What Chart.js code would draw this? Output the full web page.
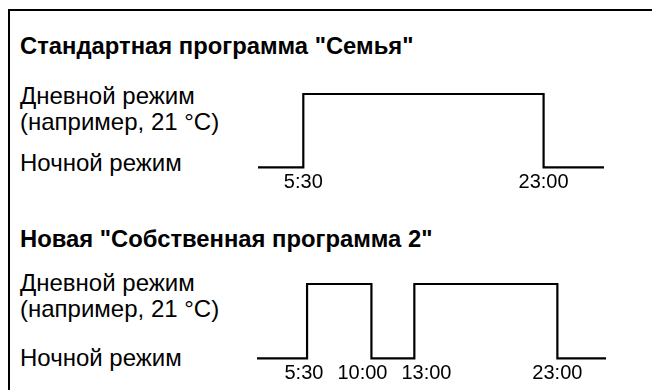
<!DOCTYPE html>
<html>
<head>
<meta charset="utf-8">
<script src="https://cdn.jsdelivr.net/npm/chart.js"></script>
<style>
  body { margin: 0; background: #fff; font-family: "Liberation Sans", Arial, sans-serif; color: #000; }
  #page { position: relative; width: 652px; height: 390px; overflow: hidden; }
  #frame { position: absolute; left: 8px; top: 9px; width: 660px; height: 400px;
           border-top: 2px solid #000; border-left: 2px solid #000; }
  .title { position: absolute; left: 20px; font-weight: bold; font-size: 23.8px; line-height: 27px; white-space: nowrap; }
  .lbl { position: absolute; left: 20px; font-size: 24px; line-height: 26px; white-space: nowrap; }
  canvas { position: absolute; left: 0; }
</style>
</head>
<body>
<div id="page">
  <div id="frame"></div>

  <div class="title" style="top:32px">Стандартная программа "Семья"</div>
  <div class="lbl" style="top:83px">Дневной режим<br>(например, 21 °C)</div>
  <div class="lbl" style="top:150px">Ночной режим</div>
  <canvas id="grafico_famiglia" width="652" height="140" style="top:60px"></canvas>

  <div class="title" style="top:225px">Новая "Собственная программа 2"</div>
  <div class="lbl" style="top:270px">Дневной режим<br>(например, 21 °C)</div>
  <div class="lbl" style="top:345px">Ночной режим</div>
  <canvas id="grafico_proprio" width="652" height="140" style="top:250px"></canvas>
</div>

<script>
// livelli: 0 = notte, 1 = giorno
// programma standard "Семья" (ore; lo schema non è in scala, la linea parte prima e finisce dopo)
var ore_famiglia = [2.2, 5.5, 23, 27.4];
var livello_famiglia = [0, 1, 0, 0];
var tick_famiglia = [5.5, 23];
var etichette_famiglia = ['5:30', '23:00'];

// nuovo programma proprio 2
var ore_proprio = [2.0, 5.5, 10, 13, 23, 26.4];
var livello_proprio = [0, 1, 0, 1, 0, 0];
var tick_proprio = [5.5, 10, 13, 23];
var etichette_proprio = ['5:30', '10:00', '13:00', '23:00'];

// se due etichette dell'asse x si sovrappongono le allargo un po'
var separa_etichette = {
  id: 'separa_etichette',
  beforeDraw: function (chart) {
    var scale = chart.scales.x;
    var items = scale.getLabelItems();
    var ctx = chart.ctx;
    var spazio = 14;
    var larghezze = items.map(function (it) {
      ctx.save();
      ctx.font = it.font.string;
      var w = ctx.measureText(it.label).width;
      ctx.restore();
      return w;
    });
    for (var giro = 0; giro < 6; giro++) {
      for (var i = 0; i < items.length - 1; i++) {
        var a = items[i].options.translation;
        var b = items[i + 1].options.translation;
        var sovrapp = (a[0] + larghezze[i] / 2 + spazio) - (b[0] - larghezze[i + 1] / 2);
        if (sovrapp > 0) {
          a[0] -= sovrapp / 2;
          b[0] += sovrapp / 2;
        }
      }
    }
  }
};

function disegna_programma(id, ore, livelli, tick, etichette, padding) {
  var punti = [];
  for (var i = 0; i < ore.length; i++) {
    punti.push({ x: ore[i], y: livelli[i] });
  }
  return new Chart(document.getElementById(id), {
    type: 'line',
    data: {
      datasets: [{
        data: punti,
        stepped: 'before',
        borderColor: '#000',
        borderWidth: 2.2,
        pointRadius: 0,
        fill: false,
        clip: false
      }]
    },
    options: {
      responsive: false,
      animation: false,
      events: [],
      layout: { padding: padding },
      plugins: { legend: { display: false }, tooltip: { enabled: false } },
      scales: {
        x: {
          type: 'linear',
          min: ore[0],
          max: ore[ore.length - 1],
          grid: { display: false, drawTicks: false },
          border: { display: false },
          afterBuildTicks: function (scale) {
            scale.ticks = tick.map(function (v) { return { value: v }; });
          },
          ticks: {
            autoSkip: false,
            maxRotation: 0,
            padding: 3,
            color: '#000',
            font: { family: '"Liberation Sans", Arial, sans-serif', size: 20 },
            callback: function (v) {
              var k = tick.indexOf(v);
              return k >= 0 ? etichette[k] : '';
            }
          }
        },
        y: { display: false, min: 0, max: 1 }
      }
    },
    plugins: [separa_etichette]
  });
}

disegna_programma('grafico_famiglia', ore_famiglia, livello_famiglia, tick_famiglia, etichette_famiglia,
  { top: 34, bottom: 2.6, left: 258, right: 48 });
disegna_programma('grafico_proprio', ore_proprio, livello_proprio, tick_proprio, etichette_proprio,
  { top: 34, bottom: 1.6, left: 257, right: 46 });
</script>
</body>
</html>
